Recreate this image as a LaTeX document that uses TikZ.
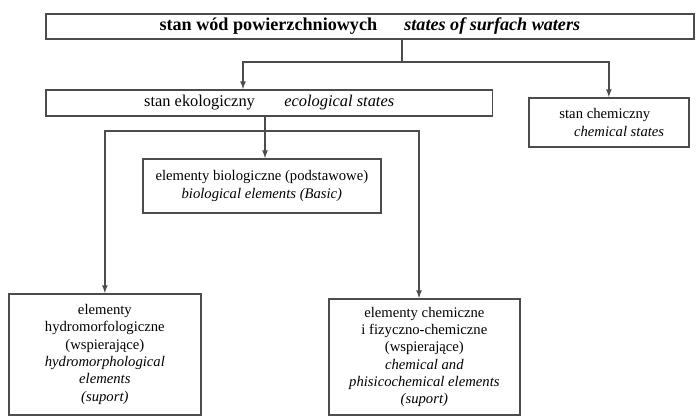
\documentclass[tikz,border=0pt]{standalone}
\usepackage{fontspec}
\setmainfont{Liberation Serif}
\usepackage{tikz}
\usetikzlibrary{arrows.meta,calc,positioning}
\definecolor{boxgray}{rgb}{0.3,0.3,0.3}
\tikzset{
  statebox/.style={draw=boxgray, line width=1.3pt, fill=white, anchor=north west, inner sep=2pt, font=\fontsize{11}{13}\selectfont},
  link/.style={draw=boxgray, line width=1pt}
}

\begin{document}
\begin{tikzpicture}[x=0.75pt,y=-0.75pt]
        \useasboundingbox (0,0) rectangle (696,416);
        % Draw the state boxes
        \node[statebox, minimum width=486pt, minimum height=18.75pt, font=\fontsize{13.6}{15}\selectfont\bfseries] (surf) at (45,13)
          {stan wód powierzchniowych\hspace{1.5em}\textit{states of surfach waters}};
        \node[statebox, minimum width=335pt, minimum height=19.5pt, font=\fontsize{12.3}{14}\selectfont] (eco) at (45,89)
          {stan ekologiczny\hspace{1.8em}\textit{ecological states}};
        \node[statebox, minimum width=120pt, minimum height=36.75pt, align=left] (chem) at (528,97)
          {\hspace*{0.4em}stan chemiczny\\\hspace*{1.4em}\textit{chemical states}};
        %elements
        \node[statebox, minimum width=178.5pt, minimum height=40.5pt, align=center] (bio) at (142,158)
          {elementy biologiczne (podstawowe)\\\textit{biological elements (Basic)}};
        \node[statebox, minimum width=144pt, minimum height=90.75pt, align=center] (hydro) at (8,293)
          {elementy\\hydromorfologiczne\\(wspierające)\\\textit{hydromorphological}\\\textit{elements}\\\textit{(suport)}};
        \node[statebox, minimum width=143.25pt, minimum height=87pt, align=center] (phys) at (328,298)
          {elementy chemiczne\\i fizyczno-chemiczne\\(wspierające)\\\textit{chemical and}\\\textit{phisicochemical elements}\\\textit{(suport)}};
        % Add the connectors
        \coordinate (j1) at (402,62);
        \coordinate (ecoin) at (243,62);
        \draw[link] (j1 |- surf.south) -- (j1);
        \draw[link,-latex] (j1) -| (chem.north);
        \draw[link,-latex] (j1) -- (ecoin) -- (ecoin |- eco.north);
        \coordinate (j2) at (265,131);
        \draw[link,-latex] (j2 |- eco.south) -- (j2 |- bio.north);
        \draw[link,-latex] (j2) -| (hydro.north);
        \draw[link,-latex] (j2) -| ([xshift=-4pt]phys.north);
      \end{tikzpicture}
\end{document}
